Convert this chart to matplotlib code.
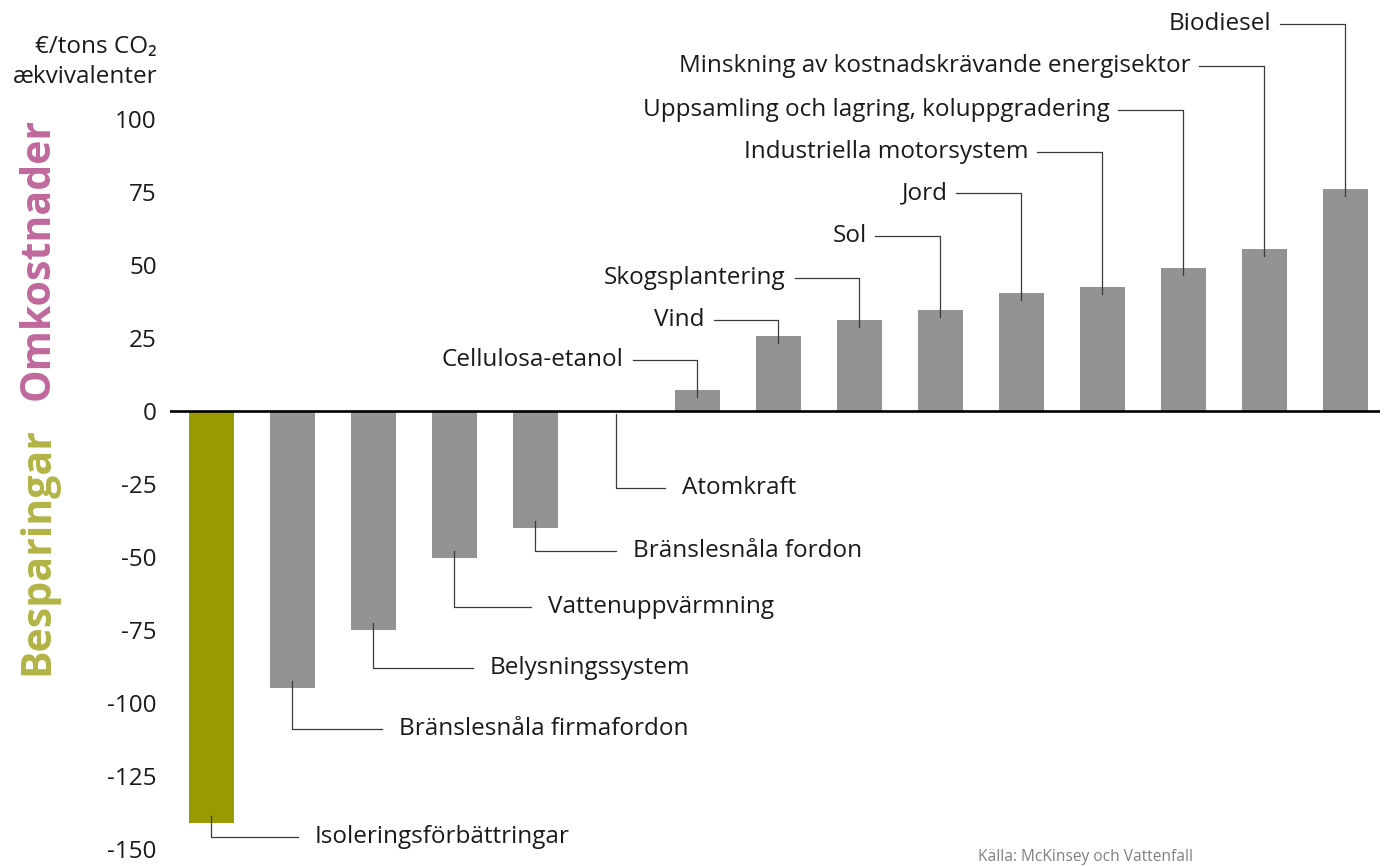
import matplotlib
matplotlib.use("Agg")
import matplotlib.pyplot as plt
from matplotlib import transforms
import numpy as np

plt.rcParams['font.family'] = ['Open Sans', 'DejaVu Sans']

# data
categories = ["Isoleringsförbättringar", "Bränslesnåla firmafordon", "Belysningssystem",
              "Vattenuppvärmning", "Bränslesnåla fordon", "Atomkraft", "Cellulosa-etanol",
              "Vind", "Skogsplantering", "Sol", "Jord", "Industriella motorsystem",
              "Uppsamling och lagring, koluppgradering",
              "Minskning av kostnadskrävande energisektor", "Biodiesel"]
values = [-141, -95, -75, -50.5, -40, 0, 7, 25.5, 31, 34.5, 40.5, 42.5, 49, 55.5, 76]
yticks = [100, 75, 50, 25, 0, -25, -50, -75, -100, -125, -150]

# label placement (data units of y, and leader lengths in bar units)
label_y = [-146, -109, -88, -67, -48, -26.5, 17.5, 31, 45.5, 60, 74.5, 88.5, 103, 118, 132.5]
leader_len = [1.07, 1.10, 1.23, 0.95, 0.99, 0.6, 0.8, 0.8, 0.8, 0.8, 0.8, 0.8, 0.8, 0.8, 0.8]

grey = "#939393"
olive = "#999900"
colors = [olive] + [grey] * (len(values) - 1)

fig = plt.figure(figsize=(13.89, 8.66), dpi=100)
ax = fig.add_axes([170 / 1389, 17 / 866, 1210 / 1389, 847 / 866])

x = np.arange(len(values))
bars = ax.bar(x, values, width=0.556, color=colors, zorder=2)
ax.axhline(0, color="black", lw=1.9, zorder=3)

fs = 17.5
ax.set_xlim(-0.512, 14.43)
ax.set_ylim(-150, 140)
ax.set_yticks(yticks)
ax.set_yticklabels([str(t) for t in yticks])
ax.tick_params(axis="y", length=0, pad=9.5, labelsize=fs, labelcolor="#1a1a1a")
ax.set_xticks([])
for s in ax.spines.values():
    s.set_visible(False)

inset = 2.4
gap = 0.11
line_kw = dict(color="#3a3a3a", lw=0.9, zorder=4)
for i, (v, ly, ll, name) in enumerate(zip(values, label_y, leader_len, categories)):
    if v > 0:
        ax.plot([i, i, i - ll], [v - inset, ly, ly], **line_kw)
        ax.text(i - ll - gap, ly, name, ha="right", va="center", fontsize=fs, color="#1a1a1a")
    else:
        start = v + inset if v < 0 else -1
        ax.plot([i, i, i + ll], [start, ly, ly], **line_kw)
        ax.text(i + ll + gap + 0.1, ly, name, ha="left", va="center", fontsize=fs, color="#1a1a1a")

# unit label
fig.text(157 / 1389, 1 - 47 / 866, "€/tons CO₂", ha="right", va="center", fontsize=fs, color="#1a1a1a")
fig.text(157 / 1389, 1 - 77 / 866, "ækvivalenter", ha="right", va="center", fontsize=fs, color="#1a1a1a")

# side labels
trans = transforms.blended_transform_factory(fig.transFigure, ax.transData)
ax.text(38 / 1389, 52, "Omkostnader", rotation=90, ha="center", va="center",
        fontsize=29.5, fontweight="bold", color="#C0689C", transform=trans)
ax.text(38 / 1389, -48, "Besparingar", rotation=90, ha="center", va="center",
        fontsize=29.5, fontweight="bold", color="#B3B446", transform=trans)

fig.text(978 / 1389, 1 - 857 / 866, "Källa: McKinsey och Vattenfall", ha="left", va="center",
         fontsize=11.2, color="#808080")

fig.savefig("out.png", dpi=100)
